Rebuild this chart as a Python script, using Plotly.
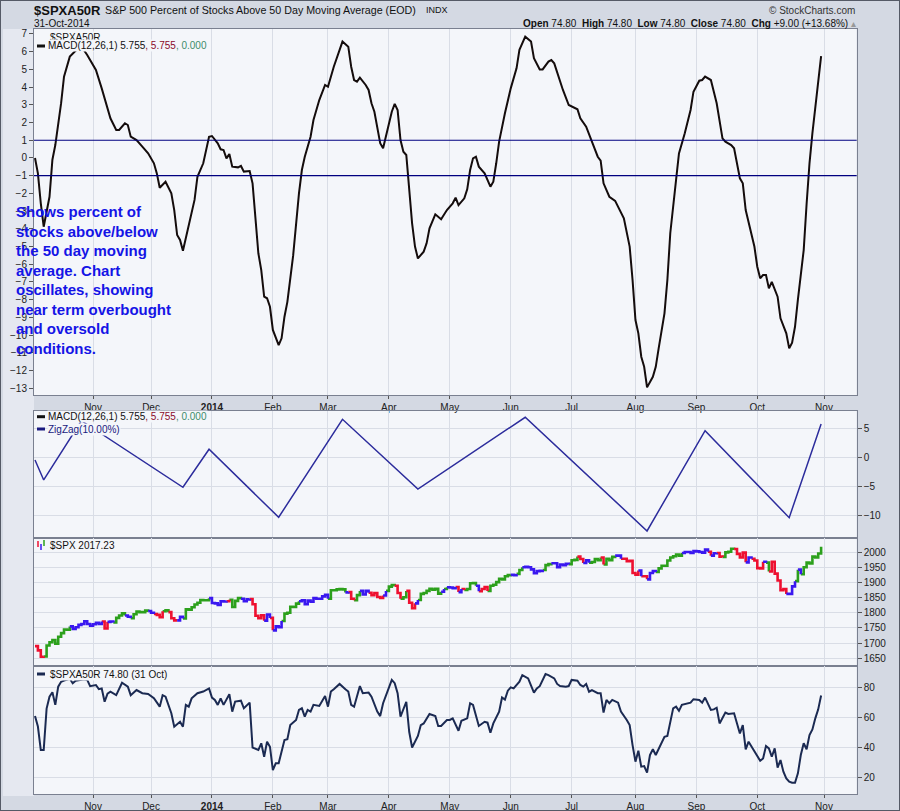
import pandas as pd
import plotly.graph_objects as go

# ---- trading calendar (NYSE sessions, holidays removed) ----
holidays = ["2013-11-28", "2013-12-25", "2014-01-01", "2014-01-20", "2014-02-17",
            "2014-04-18", "2014-05-26", "2014-07-04", "2014-09-01"]
sessions = pd.bdate_range("2013-10-04", "2014-11-18", freq="C",
                          holidays=holidays).strftime("%Y-%m-%d").tolist()

month_ticks = ["2013-11-01", "2013-12-02", "2014-01-02", "2014-02-03", "2014-03-03", "2014-04-01",
               "2014-05-01", "2014-06-02", "2014-07-01", "2014-08-01", "2014-09-02", "2014-10-01",
               "2014-11-03"]
month_labels = ["Nov", "Dec", "<b>2014</b>", "Feb", "Mar", "Apr", "May", "Jun", "Jul", "Aug",
                "Sep", "Oct", "Nov"]

# ---- MACD(12,26,1) of $SPXA50R : (session number, value) ----
macd_pts = [
    (0, 0.0), (1, -0.87), (2, -2.56), (3, -3.88), (5, -2.19), (6, -0.1), (7, 0.73), (9, 3.09),
    (10, 4.59), (12, 5.72), (14, 6.05), (16, 6.3), (18, 5.81), (21, 4.97), (23, 3.93), (25, 2.71),
    (26, 2.24), (28, 1.58), (29, 1.58), (31, 1.96), (32, 1.86), (33, 1.2), (35, 1.01), (37, 0.64),
    (39, 0.26), (41, -0.3), (42, -0.87), (43, -1.68), (45, -1.34), (47, -2.0), (48, -2.94),
    (49, -4.35), (50, -4.63), (51, -5.24), (52, -4.54), (53, -3.88), (55, -2.37), (56, -1.06),
    (58, -0.3), (60, 1.2), (61, 1.24), (63, 0.83), (64, 0.49), (65, 0.45), (66, -0.02), (67, 0.22),
    (68, -0.49), (70, -0.53), (71, -0.45), (72, -0.77), (74, -0.74), (75, -1.43), (76, -3.31),
    (77, -5.38), (78, -6.33), (79, -7.83), (80, -7.92), (81, -8.4), (82, -9.71), (84, -10.56),
    (85, -10.18), (86, -8.96), (87, -8.12), (89, -5.5), (91, -2.0), (92, -0.68), (93, 0.07),
    (95, 1.2), (96, 2.14), (98, 3.27), (100, 4.12), (101, 4.02), (103, 5.15), (105, 6.1),
    (106, 6.57), (108, 6.28), (109, 5.15), (110, 4.4), (111, 4.31), (112, 4.53), (114, 4.12),
    (115, 3.84), (116, 3.09), (117, 2.61), (119, 0.83), (120, 0.55), (121, 1.2), (123, 2.61),
    (124, 3.05), (125, 2.71), (126, 1.01), (127, 0.35), (128, 0.17), (129, -1.81), (130, -3.69),
    (131, -5.0), (132, -5.67), (134, -5.29), (135, -4.82), (136, -3.97), (138, -3.18), (140, -3.46),
    (142, -2.94), (144, -2.56), (145, -2.24), (146, -2.66), (148, -2.28), (149, -1.77), (150, -0.68),
    (151, -0.02), (152, 0.07), (153, -0.49), (155, -0.87), (157, -1.62), (158, -1.34), (159, -0.3),
    (160, 0.92), (162, 2.52), (164, 3.93), (166, 5.06), (167, 6.1), (169, 6.85), (171, 6.57),
    (172, 5.63), (174, 5.0), (175, 5.0), (177, 5.44), (178, 5.53), (179, 5.34), (182, 3.84),
    (184, 2.99), (187, 2.75), (188, 2.24), (190, 1.77), (192, 0.92), (194, 0.07), (195, -0.15),
    (196, -1.43), (198, -2.19), (200, -2.42), (203, -3.41), (205, -5.0), (206, -6.89), (207, -9.15),
    (208, -9.9), (209, -11.22), (210, -11.79), (211, -12.95), (213, -12.35), (214, -11.79),
    (215, -10.75), (217, -8.77), (218, -6.89), (219, -4.25), (221, -1.24), (222, 0.26), (224, 1.39),
    (226, 2.71), (227, 3.74), (229, 4.36), (230, 4.4), (231, 4.59), (233, 4.4), (234, 3.65),
    (235, 3.09), (237, 1.11), (238, 0.92), (240, 0.73), (241, 0.55), (243, -1.15), (244, -1.43),
    (245, -2.94), (246, -3.6), (248, -5.0), (249, -6.14), (250, -6.79), (251, -6.61), (252, -6.61),
    (253, -7.36), (254, -6.99), (256, -7.83), (257, -9.05), (259, -9.9), (260, -10.75),
    (261, -10.43), (262, -9.53), (263, -8.0), (264, -6.61), (265, -5.2), (266, -2.6), (267, -0.3),
    (268, 1.4), (269, 2.9), (270, 4.3), (271, 5.755),
]

# ---- ZigZag(10%) pivots of the MACD ----
zigzag_day = [0, 3, 16, 51, 60, 84, 106, 132, 169, 211, 231, 260, 271]
zigzag_val = [-0.47, -3.91, 6.3, -5.17, 1.38, -10.34, 6.55, -5.47, 6.9, -12.7, 4.59, -10.41, 5.755]

# ---- $SPX daily close, Oct 4 2013 .. Oct 31 2014 ----
spx_close = [
    1690, 1676, 1655, 1656, 1692, 1703, 1710, 1698, 1721, 1733, 1745, 1744, 1755, 1747, 1752, 1760,
    1763, 1772, 1763, 1757,
    1762, 1767, 1763, 1771, 1748, 1770, 1771, 1768, 1783, 1791, 1798, 1791, 1787, 1782, 1795, 1804,
    1802, 1802, 1807, 1806,
    1800, 1796, 1793, 1785, 1805, 1808, 1802, 1782, 1775, 1775, 1787, 1781, 1811, 1810, 1818, 1827,
    1833, 1842, 1841, 1841, 1848,
    1832, 1831, 1826, 1838, 1837, 1838, 1843, 1819, 1839, 1848, 1846, 1838, 1844, 1845, 1828, 1790,
    1782, 1792, 1774, 1794, 1783,
    1742, 1755, 1752, 1773, 1797, 1800, 1820, 1819, 1830, 1838, 1841, 1828, 1840, 1836, 1848, 1846,
    1846, 1854, 1859,
    1846, 1874, 1874, 1877, 1878, 1877, 1867, 1868, 1846, 1841, 1858, 1872, 1860, 1872, 1866, 1858,
    1865, 1852, 1849, 1857, 1872,
    1886, 1891, 1889, 1865, 1846, 1851, 1872, 1833, 1815, 1831, 1842, 1862, 1865, 1872, 1879, 1876,
    1879, 1863, 1869, 1878, 1884,
    1883, 1881, 1885, 1868, 1878, 1875, 1878, 1897, 1898, 1889, 1871, 1878, 1885, 1872, 1889, 1892,
    1901, 1912, 1910, 1920, 1924,
    1925, 1924, 1928, 1941, 1950, 1951, 1950, 1943, 1930, 1937, 1938, 1941, 1957, 1960, 1963, 1963,
    1950, 1959, 1957, 1961, 1960,
    1973, 1974, 1985, 1977, 1964, 1973, 1965, 1967, 1977, 1973, 1982, 1959, 1978, 1973, 1984, 1988,
    1988, 1978, 1978, 1970, 1971, 1931,
    1925, 1939, 1920, 1920, 1910, 1931, 1937, 1934, 1946, 1955, 1955, 1972, 1982, 1986, 1992, 1988,
    1997, 2000, 2000, 1997, 2003,
    2002, 2000, 1998, 2008, 2001, 1988, 1996, 1997, 1985, 1984, 1999, 2001, 2011, 2010, 1994, 1982,
    1998, 1966, 1982, 1978, 1972,
    1947, 1946, 1968, 1965, 1936, 1968, 1929, 1906, 1874, 1878, 1862, 1862, 1887, 1904, 1942, 1927,
    1950, 1965, 1962, 1985, 1982, 1995, 2017.23,
]
# bar colour runs (g = green, r = red, b = blue) as (colour, number of bars)
spx_runs = [
    ("b", 1), ("r", 3), ("g", 9), ("b", 11), ("r", 2), ("b", 2), ("g", 4), ("b", 2), ("g", 6),
    ("b", 2), ("r", 3), ("g", 2), ("r", 3), ("b", 2), ("g", 9), ("b", 6), ("r", 1), ("g", 4),
    ("b", 3), ("r", 5), ("b", 2), ("r", 1), ("b", 3), ("g", 6), ("b", 10), ("g", 6), ("b", 1),
    ("r", 2), ("g", 2), ("b", 3), ("r", 5), ("b", 1), ("g", 3), ("r", 2), ("g", 2), ("r", 3),
    ("b", 1), ("g", 8), ("b", 1), ("g", 1), ("b", 3), ("r", 1), ("b", 1), ("r", 1), ("g", 4),
    ("b", 1), ("r", 3), ("g", 8), ("b", 2), ("g", 2), ("b", 7), ("g", 3), ("b", 6), ("g", 3),
    ("r", 2), ("b", 2), ("g", 4), ("r", 1), ("g", 4), ("b", 2), ("r", 6), ("b", 1), ("r", 2),
    ("b", 3), ("g", 9), ("b", 9), ("r", 1), ("b", 2), ("r", 2), ("g", 4), ("r", 4), ("b", 2),
    ("r", 4), ("b", 1), ("g", 1), ("r", 6), ("b", 3), ("g", 1), ("b", 1), ("g", 7),
]

# ---- $SPXA50R : (session number, percent) ----
breadth_pts = [
    (0, 61), (1, 54), (2, 38.3), (3, 38.3), (4, 66), (5, 74), (6, 77), (7, 68.5), (8, 80.7), (9, 84),
    (10, 84.7), (11, 85.2), (12, 86), (13, 83), (14, 84.7), (17, 85.6), (18, 85.2), (19, 81),
    (21, 81.8), (22, 79), (23, 79.5), (24, 70.6), (25, 76), (26, 77.3), (28, 75), (30, 83.3),
    (32, 80.7), (33, 75), (35, 78.4), (37, 76.3), (39, 75.8), (41, 72.9), (43, 67.3), (44, 75),
    (45, 74), (47, 62.9), (48, 53.9), (50, 57.2), (51, 53.9), (52, 68.5), (53, 67.3), (54, 72.9),
    (56, 76.3), (58, 77.4), (60, 79.5), (61, 73.4), (62, 71.8), (63, 68.5), (64, 72.9), (65, 68.5),
    (67, 75.6), (68, 64), (69, 70.7), (71, 71.3), (72, 66.2), (74, 70), (75, 40), (77, 38.3),
    (78, 42.8), (79, 33.8), (80, 43.9), (81, 40.5), (82, 24.9), (83, 29.4), (84, 29.4), (86, 45),
    (87, 45.5), (88, 55), (90, 58.4), (91, 65.1), (92, 66.2), (93, 60.6), (94, 65.1), (95, 64),
    (96, 68.5), (98, 67.8), (100, 74.5), (101, 67.3), (102, 77.4), (103, 79), (105, 82.5), (107, 79),
    (108, 77.4), (109, 68.5), (110, 67.3), (112, 81.1), (113, 76.3), (115, 76.7), (116, 74),
    (118, 64), (119, 61), (120, 69.6), (122, 80.7), (123, 85.2), (124, 83), (125, 76.3), (126, 60.6),
    (127, 65), (128, 70.6), (129, 50.5), (130, 40), (132, 47.7), (133, 55), (134, 56.1), (136, 62.4),
    (138, 61), (139, 54.4), (140, 54.4), (142, 58.4), (143, 58.4), (144, 59.5), (146, 51.2),
    (147, 57.9), (149, 59.5), (150, 69.6), (151, 68.5), (153, 54.4), (155, 57.2), (156, 56.6),
    (157, 49.9), (158, 56.1), (160, 64), (161, 73.4), (162, 72), (163, 78), (164, 80.2), (165, 79.5),
    (167, 84), (168, 88.4), (170, 86.2), (171, 81.8), (172, 76.7), (173, 79.5), (174, 81), (176, 89.1),
    (177, 88.4), (179, 86.2), (180, 82.5), (181, 81.1), (183, 80.7), (184, 81.1), (185, 85.2),
    (187, 84.7), (188, 81.8), (189, 80.7), (190, 82.5), (191, 77.3), (192, 78.4), (194, 76.3),
    (195, 76.3), (196, 63.4), (197, 71.8), (198, 69.6), (199, 71.8), (201, 70), (202, 64), (204, 58.4),
    (205, 55), (206, 41.6), (207, 30.5), (208, 37.9), (209, 27.2), (210, 27.6), (211, 23.2), (212, 35),
    (213, 38.8), (214, 35), (217, 47.2), (218, 47.7), (219, 56.1), (220, 66.2), (221, 67.3),
    (222, 64.5), (223, 68.5), (225, 69.6), (226, 70), (227, 72.3), (229, 71.8), (230, 70), (231, 73.4),
    (233, 65.1), (234, 65.5), (235, 66.6), (236, 56.1), (238, 63.4), (239, 62.4), (241, 62.9),
    (242, 56.6), (243, 49.4), (244, 55), (245, 38.8), (246, 43.9), (247, 40.5), (248, 37.2),
    (250, 31.1), (251, 32.7), (252, 41), (253, 39.4), (254, 33.8), (255, 39.4), (256, 26.6),
    (257, 31.6), (258, 23.8), (259, 19.3), (260, 17.1), (261, 16.4), (262, 16.4), (263, 22.7),
    (264, 35), (265, 42.8), (266, 38.8), (267, 48.3), (268, 52.1), (269, 59.5), (270, 65.5),
    (271, 74.8),
]

FONT = "Liberation Sans, Arial, sans-serif"
PLOT_BG = "#f4f6fa"
GRID = "#d9dde6"
FRAME = "#7a8090"
BAR_COLORS = {"g": "#2ca01c", "r": "#ee1030", "b": "#3a18f0"}


def px(x):
    return x / 900


def py(y):
    return 1 - y / 811


fig = go.Figure()

# panel 1: MACD line
fig.add_trace(go.Scatter(
    x=[sessions[d] for d, _ in macd_pts], y=[v for _, v in macd_pts], mode="lines",
    line=dict(color="#140c0c", width=2), xaxis="x", yaxis="y", hoverinfo="x+y"))

# panel 2: zigzag
fig.add_trace(go.Scatter(
    x=[sessions[d] for d in zigzag_day], y=zigzag_val, mode="lines",
    line=dict(color="#2c2c9c", width=1.5), xaxis="x2", yaxis="y3"))

# panel 3: SPX coloured bars, one trace per colour
segments = {k: ([], []) for k in BAR_COLORS}
start = 0
for code, n in spx_runs:
    lo = max(start - 1, 0)
    xs, ys = segments[code]
    xs += sessions[lo:start + n] + [None]
    ys += spx_close[lo:start + n] + [None]
    start += n
for code, (xs, ys) in segments.items():
    fig.add_trace(go.Scatter(
        x=xs, y=ys, mode="lines", line=dict(color=BAR_COLORS[code], width=2.6, shape="hv"),
        xaxis="x3", yaxis="y4", connectgaps=False))

# panel 4: $SPXA50R
fig.add_trace(go.Scatter(
    x=[sessions[d] for d, _ in breadth_pts], y=[v for _, v in breadth_pts], mode="lines",
    line=dict(color="#1b2a52", width=2), xaxis="x4", yaxis="y5"))

x_dom = [px(34), px(856.7)]
x_common = dict(
    domain=x_dom, type="category", categoryorder="array", categoryarray=sessions,
    range=[-0.345, 283.27], tickvals=month_ticks, ticktext=month_labels, showgrid=True,
    gridcolor=GRID, gridwidth=1, showline=True, mirror=True, linecolor=FRAME, linewidth=1,
    tickfont=dict(family=FONT, size=10, color="#222"), zeroline=False)
y_common = dict(showline=True, mirror=True, linecolor=FRAME, linewidth=1, zeroline=False,
                ticks="outside", ticklen=4, tickcolor="#555", gridcolor=GRID,
                tickfont=dict(family=FONT, size=10, color="#222"))

fig.update_layout(
    width=900, height=811, margin=dict(l=0, r=0, t=0, b=0, autoexpand=False),
    paper_bgcolor="#d4d9e3", plot_bgcolor=PLOT_BG, showlegend=False,
    font=dict(family=FONT, size=10, color="#222"),
    xaxis=dict(x_common, anchor="y", ticks="outside", ticklen=3, tickcolor="#555"),
    xaxis2=dict(x_common, anchor="y3", showticklabels=False),
    xaxis3=dict(x_common, anchor="y4", showticklabels=False),
    xaxis4=dict(x_common, anchor="y5", ticks="outside", ticklen=3, tickcolor="#555"),
    yaxis=dict(y_common, domain=[py(395), py(29)], anchor="x", side="left",
               range=[-13.38, 7.28], dtick=1, tick0=0, showgrid=False),
    yaxis2=dict(y_common, overlaying="y", anchor="x", side="right",
                range=[12.16, 90.18], dtick=5, tick0=15, showgrid=True),
    yaxis3=dict(y_common, domain=[py(537.7), py(410.7)], anchor="x2", side="right",
                range=[-13.86, 8.03], tickvals=[-10, -5, 0, 5], showgrid=True),
    yaxis4=dict(y_common, domain=[py(666), py(538)], anchor="x3", side="right",
                range=[1624.6, 2046.2], dtick=50, tick0=1650, showgrid=True),
    yaxis5=dict(y_common, domain=[py(794), py(666)], anchor="x4", side="right",
                range=[8.9, 94.5], tickvals=[20, 40, 60, 80], showgrid=True),
)

shapes = [
    # light strip left of the panels
    dict(type="rect", xref="paper", yref="paper", x0=px(3), x1=px(34), y0=py(796), y1=py(29),
         fillcolor="#e5e8f0", line=dict(width=0), layer="below"),
    # overbought / oversold guides
    dict(type="line", xref="x domain", yref="y", x0=0, x1=1, y0=1, y1=1,
         line=dict(color="#000080", width=1.2)),
    dict(type="line", xref="x domain", yref="y", x0=0, x1=1, y0=-1, y1=-1,
         line=dict(color="#000080", width=1.2)),
    # outer frame
    dict(type="rect", xref="paper", yref="paper", x0=0, x1=1, y0=0, y1=1,
         line=dict(color="#555a66", width=2)),
]


def legend_swatch(y, color):
    return dict(type="line", xref="paper", yref="paper", x0=px(37), x1=px(45), y0=py(y), y1=py(y),
                line=dict(color=color, width=3))


shapes += [legend_swatch(46, "#111"), legend_swatch(416.7, "#111"), legend_swatch(429, "#1a1a80"),
           legend_swatch(674, "#1b2a52")]
# small OHLC icon for $SPX
shapes += [
    dict(type="line", xref="paper", yref="paper", x0=px(38), x1=px(38), y0=py(541), y1=py(547),
         line=dict(color="#ee1030", width=1.5)),
    dict(type="line", xref="paper", yref="paper", x0=px(41), x1=px(41), y0=py(544), y1=py(550),
         line=dict(color="#3a18f0", width=1.5)),
    dict(type="line", xref="paper", yref="paper", x0=px(44), x1=px(44), y0=py(540), y1=py(546),
         line=dict(color="#2ca01c", width=1.5)),
]
fig.update_layout(shapes=shapes)

macd_legend = ("MACD(12,26,1) 5.755<span style='color:#8b0a2a'>, 5.755</span>"
               "<span style='color:#3d8c6a'>, 0.000</span>")


def note(text, x, y, size=10, color="#222", anchor="left", bg=None):
    return dict(text=text, x=px(x), y=py(y), xref="paper", yref="paper", xanchor=anchor,
                yanchor="middle", showarrow=False, bgcolor=bg, borderpad=0,
                font=dict(family=FONT, size=size, color=color))


nb = "\u00a0"
annotations = [
    note("<b>$SPXA50R</b>", 33, 10, size=13, color="#111"),
    note("S&P 500 Percent of Stocks Above 50 Day Moving Average (EOD)", 104, 10, size=10.7,
         color="#111"),
    note("INDX", 425, 10, size=9, color="#111"),
    note("31-Oct-2014", 33, 23.5, size=10, color="#111"),
    note("\u00a9 StockCharts.com", 856, 10, size=10, color="#333", anchor="right"),
    note(f"<b>Open</b> 74.80{nb}{nb}<b>High</b> 74.80{nb}{nb}<b>Low</b> 74.80{nb}{nb}"
         f"<b>Close</b> 74.80{nb}{nb}<b>Chg</b> +9.00 (+13.68%) <span style='color:#999'>\u25b4</span>",
         857, 23.5, size=10, color="#111", anchor="right"),
    note("$SPXA50R", 49, 37, color="#111", bg=PLOT_BG),
    note(macd_legend, 47, 46, color="#111", bg=PLOT_BG),
    note(macd_legend, 47, 416.7, color="#111", bg=PLOT_BG),
    note("ZigZag(10.00%)", 47, 429, color="#1a1a80", bg=PLOT_BG),
    note("$SPX 2017.23", 49, 545.3, color="#111", bg=PLOT_BG),
    note("$SPXA50R 74.80 (31 Oct)", 49, 674, color="#111", bg=PLOT_BG),
    note("<b>Shows percent of<br>stocks above/below<br>the 50 day moving<br>average. Chart<br>"
         "oscillates, showing<br>near term overbought<br>and oversold<br>conditions.</b>",
         15, 279.5, size=15, color="#1414e6"),
]
annotations[-1]["align"] = "left"
fig.update_layout(annotations=annotations)

fig.write_html("out.html", config={"displayModeBar": False},
               post_script="document.body.style.margin='0';")
